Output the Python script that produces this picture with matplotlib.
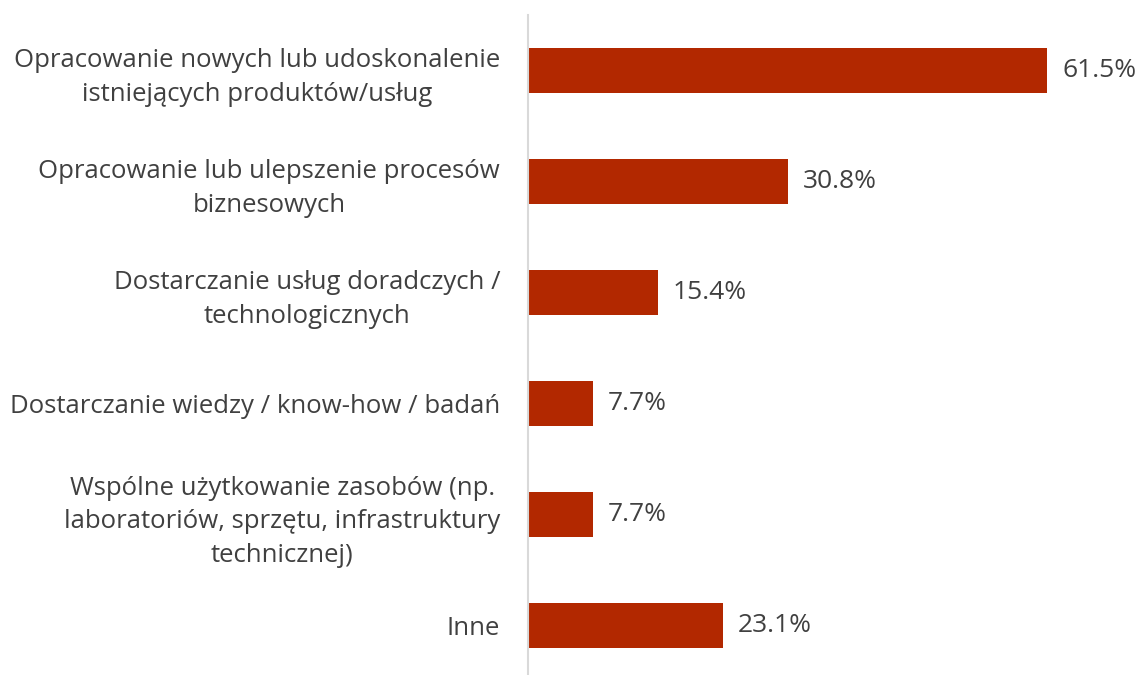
import matplotlib.pyplot as plt

categories = [
    "Opracowanie nowych lub udoskonalenie\nistniejących produktów/usług",
    "Opracowanie lub ulepszenie procesów\nbiznesowych",
    "Dostarczanie usług doradczych /\ntechnologicznych",
    "Dostarczanie wiedzy / know-how / badań",
    "Wspólne użytkowanie zasobów (np.\nlaboratoriów, sprzętu, infrastruktury\ntechnicznej)",
    "Inne",
]
values = [61.5, 30.8, 15.4, 7.7, 7.7, 23.1]
value_labels = ["61.5%", "30.8%", "15.4%", "7.7%", "7.7%", "23.1%"]

bar_color = "#B22800"
text_color = "#404040"

plt.rcParams['font.family'] = ['Open Sans', 'DejaVu Sans']

fig = plt.figure(figsize=(11.41, 6.75), dpi=100)
# axes: left at 528px, top at 15px, bottom at image edge
ax = fig.add_axes([528 / 1141, 0.0, (1119 - 528) / 1141, (675 - 15) / 675])

pos = list(range(len(categories)))
ax.barh(pos, values, height=0.4, color=bar_color)

ax.set_ylim(5.446, -0.5)
ax.set_xlim(0, 70)

for p, v, lab in zip(pos, values, value_labels):
    ax.annotate(lab, (v, p), xytext=(15, 0), textcoords='offset pixels',
                va='center', ha='left', fontsize=19, color=text_color)

ax.set_yticks(pos)
ax.set_yticklabels(categories, fontsize=18.5, color=text_color,
                   multialignment='center', linespacing=1.45)
ax.tick_params(axis='y', length=0, pad=20)
ax.set_xticks([])

for s in ['top', 'right', 'bottom']:
    ax.spines[s].set_visible(False)
ax.spines['left'].set_color('#D9D9D9')
ax.spines['left'].set_linewidth(1.5)

fig.savefig('out.png', dpi=100)
